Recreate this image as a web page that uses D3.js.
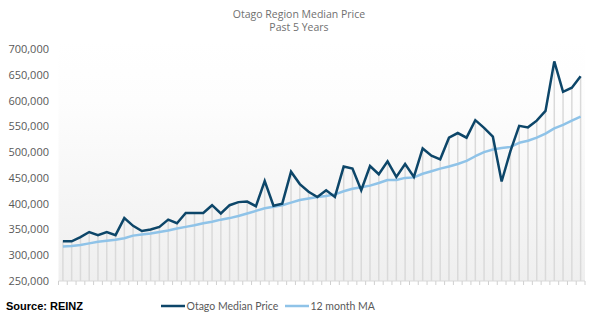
<!DOCTYPE html>
<html><head><meta charset="utf-8">
<script src="https://cdn.jsdelivr.net/npm/d3@7"></script>
<style>body{margin:0;background:#fff}svg{display:block}</style>
</head><body><svg id="c" width="598" height="323"></svg>
<script>
const months = d3.range(60).map(i => "M" + (i + 1));
const medianPrice = [327,327,335,345,339,345,339,372,357,347,350,355,369,362,382,382,382,397,381,397,
  403,404,395,444,396,400,462,438,423,413,426,413,472,468,426,473,457,482,452,477,
  452,507,493,486,528,537,528,562,547,530,443,502,551,548,561,580,676,617,625,647].map(v => v * 1000);
const movingAvg = [317,318,320,323,326,328,330,333,338,340,342,345,348,352,355,358,362,365,369,372,
  376,381,386,391,394,397,402,407,410,413,415,418,424,429,432,435,440,446,446,450,
  451,458,463,468,472,477,483,492,500,505,508,510,518,522,528,536,546,553,561,569].map(v => v * 1000);
const yTicks = [250000,300000,350000,400000,450000,500000,550000,600000,650000,700000];
const titleLines = ["Otago Region Median Price", "Past 5 Years"];
const seriesNames = ["Otago Median Price", "12 month MA"];
const colors = ["#0d4669", "#8fc3e8"];

const svg = d3.select("#c");
const L = 58.5, R = 585, T = 49, B = 281;
const x = d3.scaleBand().domain(months).range([L, R]);
const cx = d => x(d) + x.bandwidth() / 2;
const y = d3.scaleLinear().domain([250000, 700000]).range([B, T]);

const defs = svg.append("defs");
const g = defs.append("linearGradient").attr("id", "bg").attr("x1", 0).attr("y1", 0).attr("x2", 0).attr("y2", 1);
g.append("stop").attr("offset", "0%").attr("stop-color", "#ffffff");
g.append("stop").attr("offset", "25%").attr("stop-color", "#fdfdfd");
g.append("stop").attr("offset", "100%").attr("stop-color", "#efefef");
svg.append("rect").attr("x", L).attr("y", T - 8).attr("width", R - L).attr("height", B - T + 8).attr("fill", "url(#bg)");

// title
svg.append("g").selectAll("text").data(titleLines).join("text")
  .attr("x", 299).attr("y", (d, i) => 17.5 + i * 13)
  .attr("text-anchor", "middle").attr("font-family", "Open Sans, sans-serif")
  .attr("font-size", 10.5).attr("fill", "#707070").text(d => d);

// y axis labels
const ya = svg.append("g").attr("transform", `translate(49,0)`)
  .call(d3.axisLeft(y).tickValues(yTicks).tickSize(0).tickPadding(0).tickFormat(d3.format(",")));
ya.select(".domain").remove();
ya.selectAll("text").attr("font-family", "Open Sans, sans-serif").attr("font-size", 11).attr("fill", "#595959");

// x axis (ticks between categories)
const xa = svg.append("g").attr("transform", `translate(0,${B})`);
xa.append("line").attr("x1", L).attr("x2", R).attr("stroke", "#d9d9d9").attr("stroke-width", 1);
xa.selectAll("line.t").data(months.concat(["end"])).join("line").attr("class", "t")
  .attr("x1", (d, i) => L + i * x.step()).attr("x2", (d, i) => L + i * x.step())
  .attr("y1", 0).attr("y2", 4).attr("stroke", "#d0d0d0").attr("stroke-width", 1);

// drop lines
svg.append("g").selectAll("line").data(months).join("line")
  .attr("x1", d => cx(d)).attr("x2", d => cx(d))
  .attr("y1", (d, i) => y(medianPrice[i])).attr("y2", B)
  .attr("stroke", "#dadada").attr("stroke-width", 1.5);

const line = d3.line().x((d, i) => cx(months[i])).y(d => y(d));
svg.append("path").datum(movingAvg).attr("d", line).attr("fill", "none")
  .attr("stroke", colors[1]).attr("stroke-width", 2.5).attr("stroke-linejoin", "round");
svg.append("path").datum(medianPrice).attr("d", line).attr("fill", "none")
  .attr("stroke", colors[0]).attr("stroke-width", 2.5).attr("stroke-linejoin", "miter");

// source
svg.append("text").attr("x", 6).attr("y", 310).attr("font-family", "Liberation Sans, Arial, sans-serif")
  .attr("font-weight", "bold").attr("font-size", 11).attr("fill", "#000").text("Source: REINZ");

// legend
const lg = svg.append("g");
const items = [{x: 161, name: seriesNames[0], c: colors[0]}, {x: 285, name: seriesNames[1], c: colors[1]}];
items.forEach(it => {
  lg.append("line").attr("x1", it.x).attr("x2", it.x + 24).attr("y1", 306).attr("y2", 306)
    .attr("stroke", it.c).attr("stroke-width", 2.5);
  lg.append("text").attr("x", it.x + 25.5).attr("y", 310).attr("font-family", "Lato, sans-serif")
    .attr("font-size", 10.5).attr("fill", "#595959").text(it.name);
});
</script></body></html>
